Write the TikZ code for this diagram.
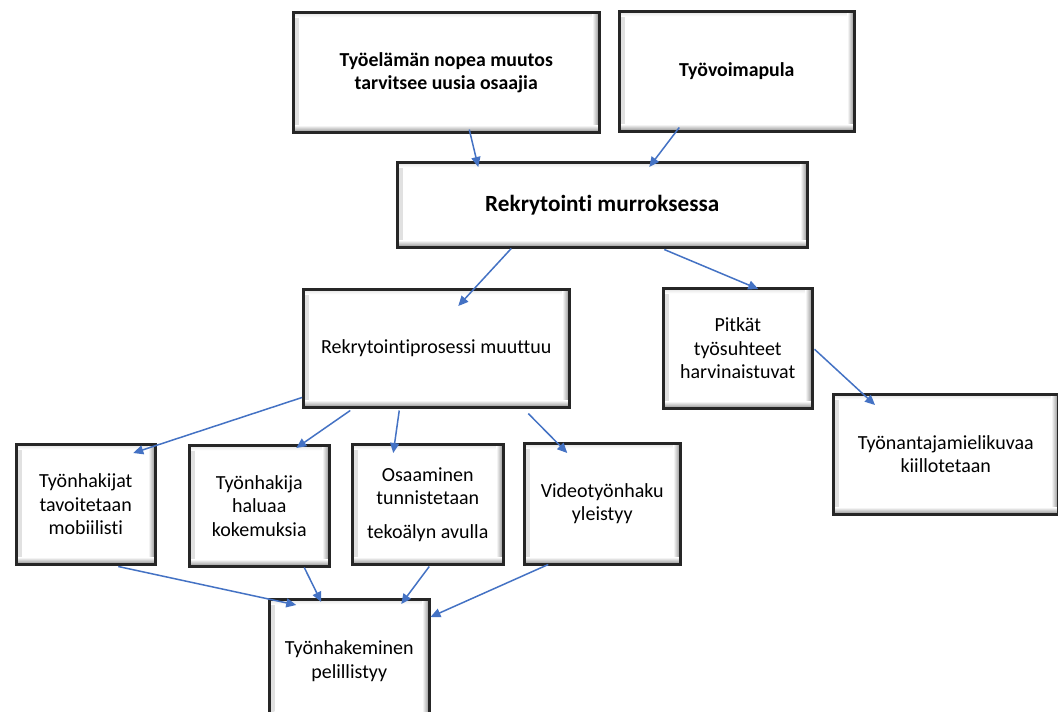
\documentclass[tikz,border=0pt]{standalone}
\usepackage{fontspec}
\setmainfont{Carlito}[Ligatures=CommonOff]
\usetikzlibrary{arrows.meta}
\definecolor{arrowblue}{HTML}{4472C4}
\definecolor{edge}{HTML}{262626}
\newcommand\txtreg{\fontsize{20}{23.5}\selectfont}
\newcommand\txtbold{\fontsize{19.8}{23}\selectfont\bfseries}
\newcommand\txthead{\fontsize{23.2}{27}\selectfont\bfseries}
\tikzset{
  box/.style={rectangle, draw=edge, line width=2.5pt, fill=white, inner sep=0pt,
    anchor=north west, align=center, font=\txtreg,
    path picture={
      % bevelled rim: light on top/left, darker on right/bottom
      \shade[left color=black!12, right color=white]
        (path picture bounding box.north west) rectangle ([xshift=5pt]path picture bounding box.south west);
      \shade[top color=black!12, bottom color=white]
        (path picture bounding box.north west) rectangle ([yshift=-5pt]path picture bounding box.north east);
      \shade[left color=white, right color=black!45]
        ([xshift=-7pt]path picture bounding box.north east) rectangle (path picture bounding box.south east);
      \shade[top color=white, bottom color=black!45]
        ([yshift=7pt]path picture bounding box.south west) rectangle (path picture bounding box.south east);
    }},
  arr/.style={draw=arrowblue, line width=1.5pt, -{Triangle[length=10pt,width=9pt]}}
}
\begin{document}
\begin{tikzpicture}[x=1pt, y=-1pt]
\clip (0,0) rectangle (1058,712);
\fill[white] (0,0) rectangle (1058,712);

% top row
\node[box, font=\txtbold, minimum width=306pt, minimum height=120pt] (t1) at (292,11)
  {Työelämän nopea muutos\\tarvitsee uusia osaajia};
\node[box, font=\txtbold, minimum width=235pt, minimum height=120pt] (t2) at (618,10)
  {Työvoimapula};

% central box
\node[box, font=\txthead, minimum width=410pt, minimum height=85pt] (mid) at (396,161)
  {Rekrytointi murroksessa};

% second level
\node[box, minimum width=266pt, minimum height=118pt] (proc) at (302,288)
  {Rekrytointiprosessi muuttuu};
\node[box, minimum width=149pt, minimum height=120pt] (long) at (662,287)
  {Pitkät\\työsuhteet\\harvinaistuvat};
\node[box, minimum width=225pt, minimum height=120pt] (emp) at (832,393)
  {Työnantajamielikuvaa\\kiillotetaan};

% third level
\node[box, minimum width=139pt, minimum height=120pt] (m1) at (15,443)
  {Työnhakijat\\tavoitetaan\\mobiilisti};
\node[box, minimum width=140pt, minimum height=121pt] (m2) at (188,444)
  {Työnhakija\\haluaa\\kokemuksia};
\node[box, minimum width=151pt, minimum height=120pt] (m3) at (351,443)
  {Osaaminen\\tunnistetaan\\[10pt]tekoälyn avulla};
\node[box, minimum width=156pt, minimum height=121pt] (m4) at (523,442)
  {Videotyönhaku\\yleistyy};

% bottom
\node[box, minimum width=160pt, minimum height=124pt] (game) at (268,598)
  {Työnhakeminen\\pelillistyy};

% connectors
\draw[arr] ([xshift=23pt, yshift=4pt]t1.south) -- ([xshift=-124pt, yshift=-6pt]mid.north);
\draw[arr] ([xshift=-57.5pt, yshift=5pt]t2.south) -- ([xshift=47pt, yshift=-6pt]mid.north);
\draw[arr] ([xshift=-91pt]mid.south) -- ([xshift=22pt, yshift=-18pt]proc.north);
\draw[arr] ([xshift=62pt, yshift=-1pt]mid.south) -- ([xshift=20.5pt, yshift=-2pt]long.north);
\draw[arr] ([xshift=1pt, yshift=-1pt]long.east) -- ([xshift=43pt, yshift=-12pt]emp.north west);
\draw[arr] ([yshift=11pt]proc.south west) -- ([xshift=47.5pt, yshift=-10pt]m1.north);
\draw[arr] ([xshift=-86pt, yshift=-2pt]proc.south) -- ([xshift=37pt, yshift=-4pt]m2.north);
\draw[arr] ([xshift=-37pt, yshift=-2pt]proc.south) -- ([xshift=-34.5pt, yshift=-10pt]m3.north);
\draw[arr] ([xshift=92pt, yshift=-5pt]proc.south) -- ([xshift=-35pt, yshift=-11pt]m4.north);
\draw[arr] ([xshift=32.5pt, yshift=-1pt]m1.south) -- ([xshift=-53pt, yshift=-7pt]game.north);
\draw[arr] ([xshift=45pt]m2.south) -- ([xshift=-28pt, yshift=-4pt]game.north);
\draw[arr] ([xshift=1.5pt, yshift=-1pt]m3.south) -- ([xshift=52pt, yshift=-6pt]game.north);
\draw[arr] ([xshift=-54pt, yshift=1pt]m4.south) -- ([yshift=-19pt]game.north east);
\end{tikzpicture}
\end{document}
